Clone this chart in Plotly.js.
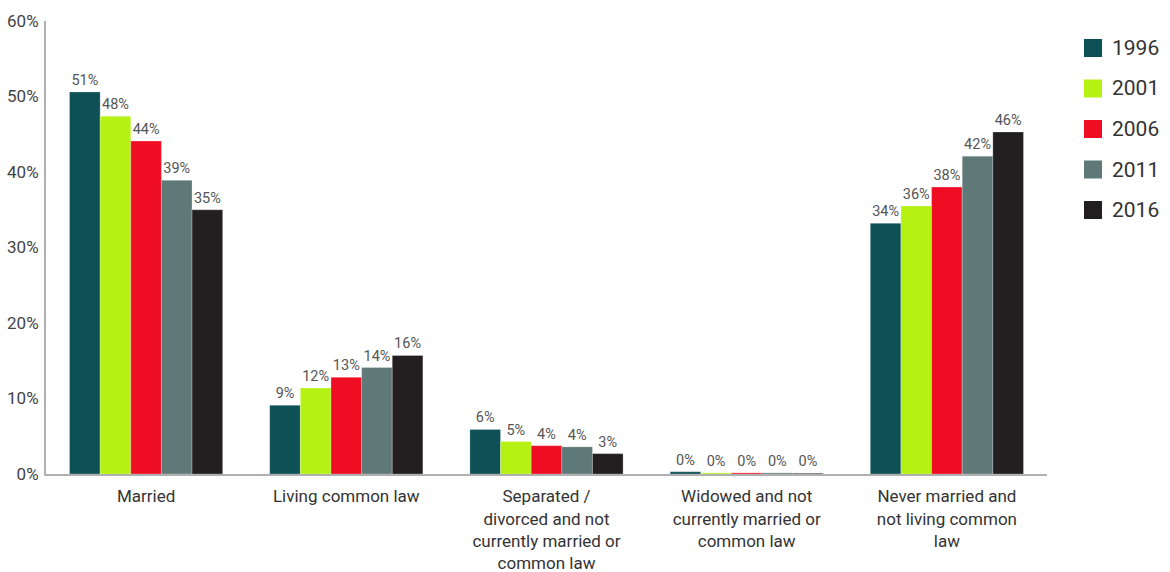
<!DOCTYPE html>
<html>
<head>
<meta charset="utf-8">
<script src="https://cdn.plot.ly/plotly-3.0.1.min.js"></script>
<style>html,body{margin:0;padding:0;background:#fff;}#chart{width:1170px;height:572px;}</style>
</head>
<body>
<div id="chart"></div>
<script>
const categories = [
  "Married",
  "Living common law",
  "Separated /<br>divorced and not<br>currently married or<br>common law",
  "Widowed and not<br>currently married or<br>common law",
  "Never married and<br>not living common<br>law"
];
const years = ["1996", "2001", "2006", "2011", "2016"];
const colors = ["#0d5055", "#b5f213", "#ef0d23", "#5f7878", "#231f20"];
const values1996 = [50.6, 9.1, 5.9, 0.3, 33.2];
const values2001 = [47.4, 11.4, 4.3, 0.15, 35.5];
const values2006 = [44.1, 12.8, 3.75, 0.15, 38.0];
const values2011 = [38.9, 14.1, 3.6, 0.15, 42.1];
const values2016 = [35.0, 15.7, 2.7, 0.1, 45.3];
const labels1996 = ["51%", "9%", "6%", "0%", "34%"];
const labels2001 = ["48%", "12%", "5%", "0%", "36%"];
const labels2006 = ["44%", "13%", "4%", "0%", "38%"];
const labels2011 = ["39%", "14%", "4%", "0%", "42%"];
const labels2016 = ["35%", "16%", "3%", "0%", "46%"];

const allValues = [values1996, values2001, values2006, values2011, values2016];
const allLabels = [labels1996, labels2001, labels2006, labels2011, labels2016];
const fontFam = "Roboto, 'DejaVu Sans', sans-serif";

const traces = years.map((y, i) => ({
  type: "bar",
  name: y,
  x: categories,
  y: allValues[i],
  text: allLabels[i],
  textposition: "outside",
  textfont: {family: fontFam, size: 14.5, color: "#555555"},
  cliponaxis: false,
  marker: {color: colors[i], line: {color: "rgba(255,255,255,0.5)", width: 0.5}},
  hoverinfo: "skip"
}));

// manual legend (squares + labels) in paper-pixel layout
const shapes = [];
const annotations = [];
const legX0 = 1084, legSize = 18, legTop = 48, legStep = 40.5;
const W = 1170, H = 572, mL = 46, mR = 123, mT = 21, mB = 98;
const pw = W - mL - mR, ph = H - mT - mB;
const px = x => (x - mL) / pw;
const py = y => (H - mB - y) / ph;
years.forEach((y, i) => {
  const cy = legTop + i * legStep;
  shapes.push({
    type: "rect", xref: "paper", yref: "paper",
    x0: px(legX0), x1: px(legX0 + legSize),
    y0: py(cy + legSize / 2), y1: py(cy - legSize / 2),
    fillcolor: colors[i], line: {width: 0}
  });
  annotations.push({
    xref: "paper", yref: "paper", x: px(legX0 + legSize + 8), y: py(cy),
    xanchor: "left", yanchor: "middle", showarrow: false,
    text: y, font: {family: fontFam, size: 21, color: "#333"}
  });
});

const layout = {
  width: W, height: H,
  margin: {l: mL, r: mR, t: mT, b: mB, autoexpand: false},
  paper_bgcolor: "#fff", plot_bgcolor: "#fff",
  barmode: "group",
  bargap: 0.235,
  bargroupgap: 0,
  showlegend: false,
  shapes: shapes,
  annotations: annotations,
  xaxis: {
    showline: true, linecolor: "#b0b0b0", linewidth: 2,
    ticks: "", ticklabelstandoff: 6,
    tickfont: {family: fontFam, size: 17, color: "#333"},
    showgrid: false, zeroline: false
  },
  yaxis: {
    range: [0, 60], dtick: 10, ticksuffix: "%",
    showline: true, linecolor: "#b0b0b0", linewidth: 2,
    ticks: "", ticklabelstandoff: 2,
    tickfont: {family: fontFam, size: 17, color: "#444"},
    showgrid: false, zeroline: false
  }
};

Plotly.newPlot("chart", traces, layout, {displayModeBar: false, staticPlot: true});
</script>
</body>
</html>
